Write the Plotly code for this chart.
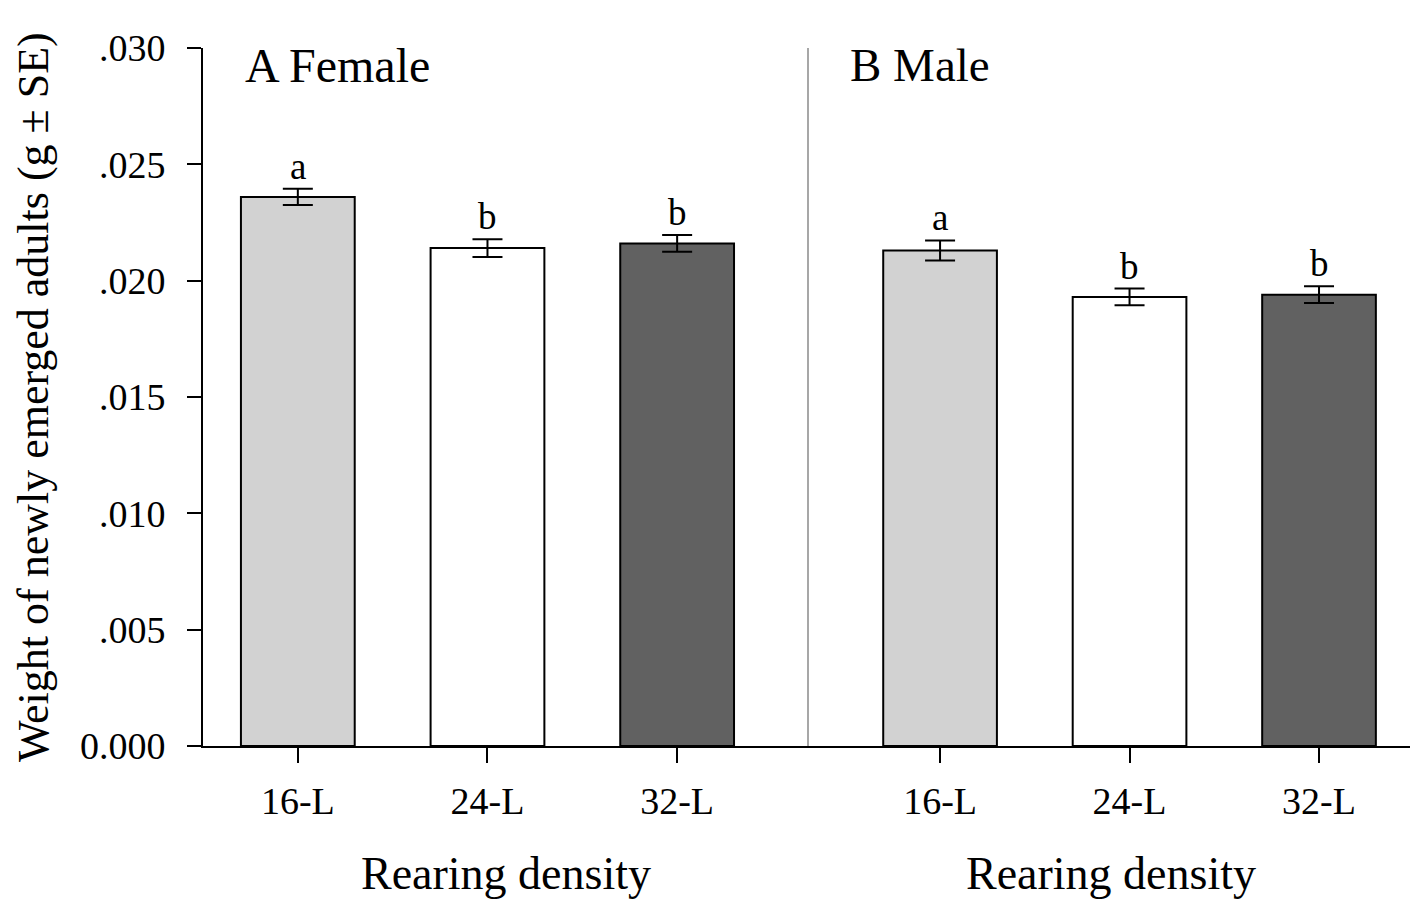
import plotly.graph_objects as go

categories = ["16-L", "24-L", "32-L"]
female_weight = [0.0236, 0.0214, 0.0216]
female_se = [0.00035, 0.00038, 0.00036]
female_letters = ["a", "b", "b"]
male_weight = [0.0213, 0.0193, 0.0194]
male_se = [0.00043, 0.00036, 0.00036]
male_letters = ["a", "b", "b"]
bar_colors = ["#d2d2d2", "#ffffff", "#616161"]
y_ticks = [0.0, 0.005, 0.010, 0.015, 0.020, 0.025, 0.030]
y_tick_labels = ["0.000", ".005", ".010", ".015", ".020", ".025", ".030"]

FONT = "Liberation Serif, Times New Roman, serif"

fig = go.Figure()

for xa, vals, ses in [("x", female_weight, female_se), ("x2", male_weight, male_se)]:
    fig.add_trace(go.Bar(
        x=categories, y=vals, xaxis=xa, yaxis="y",
        width=0.6,
        marker=dict(color=bar_colors, line=dict(color="black", width=2)),
        error_y=dict(type="data", array=ses, visible=True, color="black",
                     thickness=2, width=15),
        showlegend=False,
    ))

annotations = []
for xr, vals, ses, letters in [("x", female_weight, female_se, female_letters),
                                ("x2", male_weight, male_se, male_letters)]:
    for c, v, s, l in zip(categories, vals, ses, letters):
        annotations.append(dict(x=c, y=v + s, xref=xr, yref="y", text=l,
                                showarrow=False, yanchor="bottom", yshift=0,
                                font=dict(family=FONT, size=37, color="black")))

annotations += [
    dict(x=0.033, y=1.0, xref="paper", yref="paper", text="A Female", showarrow=False,
         xanchor="left", yanchor="middle", yshift=-17,
         font=dict(family=FONT, size=48, color="black")),
    dict(x=0.533, y=1.0, xref="paper", yref="paper", text="B Male", showarrow=False,
         xanchor="left", yanchor="middle", yshift=-17,
         font=dict(family=FONT, size=47, color="black")),
    dict(x=0.25, y=0, xref="paper", yref="paper", text="Rearing density", showarrow=False,
         xanchor="center", yanchor="middle", yshift=-127,
         font=dict(family=FONT, size=46, color="black")),
    dict(x=0.75, y=0, xref="paper", yref="paper", text="Rearing density", showarrow=False,
         xanchor="center", yanchor="middle", yshift=-127,
         font=dict(family=FONT, size=46, color="black")),
    dict(x=0, y=0.5, xref="paper", yref="paper", text="Weight of newly emerged adults (g ± SE)",
         showarrow=False, textangle=-90, xanchor="center", yanchor="middle", xshift=-170,
         borderpad=0,
         font=dict(family=FONT, size=44, color="black")),
]

axis_common = dict(type="category", showline=True, linecolor="black", linewidth=2,
                   ticks="outside", ticklen=15, tickwidth=2, tickcolor="black",
                   showgrid=False, zeroline=False, ticklabelstandoff=5,
                   tickfont=dict(family=FONT, size=38, color="black"))

fig.update_layout(
    width=1410, height=894,
    margin=dict(l=195, r=5, t=40, b=156),
    paper_bgcolor="white", plot_bgcolor="white",
    bargap=0.4,
    xaxis=dict(domain=[0, 0.5], range=[-0.5, 2.69], anchor="y", **axis_common),
    xaxis2=dict(domain=[0.5, 1.0], range=[-0.697, 2.496], anchor="y", **axis_common),
    yaxis=dict(range=[0, 0.030], tickvals=y_ticks, ticktext=y_tick_labels,
               showline=True, linecolor="black", linewidth=2,
               ticks="outside", ticklen=14, tickwidth=2, tickcolor="black",
               showgrid=False, zeroline=False, ticklabelstandoff=14,
               tickfont=dict(family=FONT, size=38, color="black")),
    annotations=annotations,
    shapes=[dict(type="line", xref="paper", yref="paper", x0=0.5, x1=0.5, y0=0, y1=1,
                 line=dict(color="#8a8a8a", width=1.5))],
)

fig.write_html("out.html")
